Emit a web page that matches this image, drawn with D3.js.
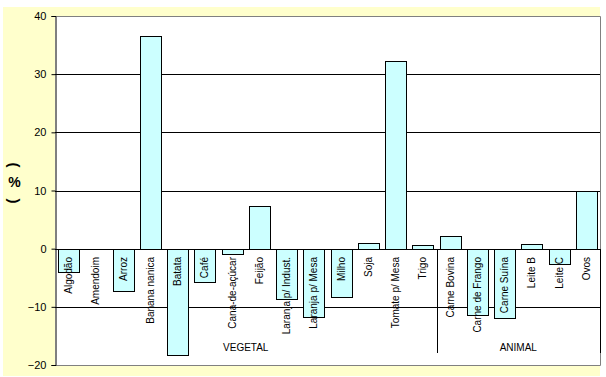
<!DOCTYPE html>
<html>
<head>
<meta charset="utf-8">
<script src="https://cdn.jsdelivr.net/npm/d3@7"></script>
<style>
  html, body { margin: 0; padding: 0; background: #ffffff; }
  svg { display: block; }
  text { font-family: Arial, "Liberation Sans", sans-serif; }
</style>
</head>
<body>
<svg id="chart" width="606" height="377"></svg>
<script>
const categories = ["Algodão", "Amendoim", "Arroz", "Banana nanica", "Batata", "Café",
  "Cana-de-açúcar", "Feijão", "Laranja p/ Indust.", "Laranja p/ Mesa", "Milho", "Soja",
  "Tomate p/ Mesa", "Trigo", "Carne Bovina", "Carne de Frango", "Carne Suína",
  "Leite B", "Leite C", "Ovos"];
const values = [-4.0, 0, -7.3, 36.5, -18.2, -5.7, -1.0, 7.4, -8.6, -11.7, -8.3, 1.0,
  32.2, 0.7, 2.2, -11.4, -12.0, 0.8, -2.6, 10.0];
const groups = [
  { name: "VEGETAL", first: "Algodão", last: "Trigo" },
  { name: "ANIMAL", first: "Carne Bovina", last: "Ovos" }
];
const yTicks = [-20, -10, 0, 10, 20, 30, 40];
const yTitle = ["(", "%", ")"];

const svg = d3.select("#chart");
const plot = { left: 55, right: 600, top: 16, bottom: 365 };

// chart area background
svg.append("rect").attr("x", 3).attr("y", 7).attr("width", 597).attr("height", 369)
  .attr("fill", "#FFFFCC");
svg.append("rect").attr("x", plot.left).attr("y", plot.top)
  .attr("width", plot.right - plot.left).attr("height", plot.bottom - plot.top)
  .attr("fill", "#ffffff");

const x = d3.scaleBand().domain(categories).range([plot.left, plot.right])
  .paddingInner(0.23).paddingOuter(0.115);
const y = d3.scaleLinear().domain([-20, 40]).range([plot.bottom, plot.top]);

// gridlines
svg.append("g").selectAll("line").data(yTicks.filter(t => t !== -20 && t !== 40))
  .join("line")
  .attr("x1", plot.left).attr("x2", plot.right)
  .attr("y1", d => Math.round(y(d)) + 0.5).attr("y2", d => Math.round(y(d)) + 0.5)
  .attr("stroke", "#000").attr("stroke-width", 1);

// plot border (gray)
svg.append("path")
  .attr("d", `M${plot.left},${plot.top + 0.5}H${plot.right + 0.5}V${plot.bottom + 0.5}H${plot.left}`)
  .attr("fill", "none").attr("stroke", "#808080").attr("stroke-width", 1);

// bars
const barData = values.map((v, i) => ({ c: categories[i], v })).filter(d => d.v !== 0);
svg.append("g").selectAll("rect").data(barData)
  .join("rect")
  .attr("x", d => Math.round(x(d.c)) + 0.5)
  .attr("width", Math.round(x.bandwidth()))
  .attr("y", d => Math.round(y(Math.max(0, d.v))) + 0.5)
  .attr("height", d => Math.abs(Math.round(y(d.v)) - Math.round(y(0))))
  .attr("fill", "#CCFFFF").attr("stroke", "#000").attr("stroke-width", 1);

// zero line on top
svg.append("line").attr("x1", plot.left).attr("x2", plot.right)
  .attr("y1", Math.round(y(0)) + 0.5).attr("y2", Math.round(y(0)) + 0.5)
  .attr("stroke", "#000");

// y axis
const yAxis = d3.axisLeft(y).tickValues(yTicks).tickSize(4).tickPadding(5)
  .tickFormat(d3.format("d"));
const ya = svg.append("g").attr("transform", `translate(${plot.left + 0.5},0)`).call(yAxis);
ya.select(".domain").attr("stroke", "#000");
ya.selectAll(".tick line").attr("stroke", "#000");
ya.selectAll(".tick text").attr("font-size", 11).attr("fill", "#000")
  .attr("font-family", "Arial, 'Liberation Sans', sans-serif");

// category labels (rotated)
svg.append("g").selectAll("text").data(categories).join("text")
  .attr("transform", d => `translate(${x(d) + x.bandwidth() / 2 + 3.5},257) rotate(-90)`)
  .attr("text-anchor", "end").attr("font-size", 10).attr("fill", "#000")
  .text(d => d);

// group separators and labels
const boundaries = [plot.left, x(groups[1].first) - x.step() * x.paddingInner() / 2, plot.right];
svg.append("g").selectAll("line").data(boundaries.slice(1)).join("line")
  .attr("x1", d => Math.round(d) + 0.5).attr("x2", d => Math.round(d) + 0.5)
  .attr("y1", Math.round(y(0))).attr("y2", 353)
  .attr("stroke", "#000");
svg.append("g").selectAll("text").data(groups).join("text")
  .attr("x", d => (x(d.first) + x(d.last) + x.bandwidth()) / 2)
  .attr("y", 351).attr("text-anchor", "middle").attr("font-size", 10).attr("fill", "#000")
  .text(d => d.name);

// y title: stacked "(%)" with rotated parentheses
const tg = svg.append("g");
tg.append("text").attr("transform", "translate(9,165) rotate(90)")
  .attr("text-anchor", "middle").attr("font-size", 15).attr("font-weight", "bold").text(yTitle[0]);
tg.append("text").attr("x", 14.5).attr("y", 187).attr("text-anchor", "middle")
  .attr("font-size", 14).attr("font-weight", "bold").text(yTitle[1]);
tg.append("text").attr("transform", "translate(9,201) rotate(90)")
  .attr("text-anchor", "middle").attr("font-size", 15).attr("font-weight", "bold").text(yTitle[2]);
</script>
</body>
</html>
